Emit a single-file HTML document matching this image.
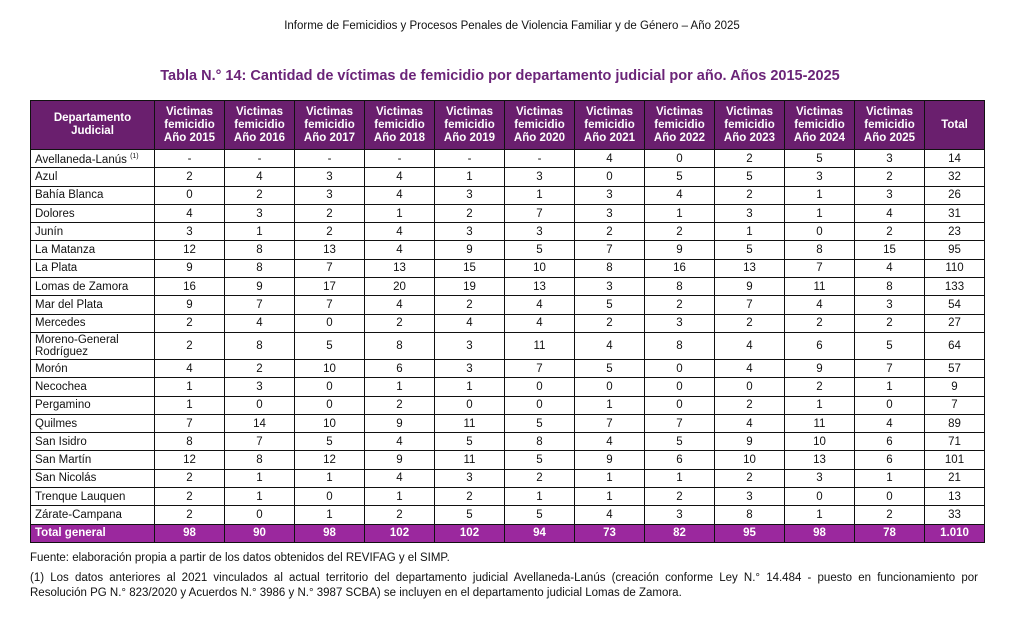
<!DOCTYPE html>
<html><head><meta charset="utf-8"><style>
body{margin:0;width:1024px;height:632px;background:#fff;font-family:"Liberation Sans",sans-serif;color:#111;position:relative;overflow:hidden}
.hdr{position:absolute;top:20px;left:0;width:1024px;text-align:center;font-size:11.5px}
.ttl{position:absolute;top:68px;left:0;width:1000px;text-align:center;font-size:14.5px;font-weight:bold;color:#6b2478}
table{position:absolute;left:30px;top:100px;border-collapse:collapse;table-layout:fixed;width:954px;font-size:11.5px}
tr{height:18.3px}
td,th{border:1.5px solid #111;padding:0;text-align:center;line-height:12px}
th{background:#6a1f6e;color:#fff;height:48px;font-size:11.5px;line-height:13px}
td:first-child{text-align:left;padding-left:4px}
tr.m{height:27px}
tr.t{height:18.5px}
tr.t td{background:#9b289e;color:#fff;font-weight:bold}
.f{position:absolute;left:30px;font-size:11.5px;line-height:15px}
.j{display:block;text-align:justify;text-align-last:justify;white-space:nowrap}
</style></head><body>
<div class="hdr">Informe de Femicidios y Procesos Penales de Violencia Familiar y de Género – Año 2025</div>
<div class="ttl">Tabla N.° 14: Cantidad de víctimas de femicidio por departamento judicial por año. Años 2015-2025</div>
<table>
<colgroup><col style="width:124px"><col span="11" style="width:70px"><col style="width:60px"></colgroup>
<tr><th>Departamento<br>Judicial</th><th>Victimas<br>femicidio<br>Año 2015</th><th>Victimas<br>femicidio<br>Año 2016</th><th>Victimas<br>femicidio<br>Año 2017</th><th>Victimas<br>femicidio<br>Año 2018</th><th>Victimas<br>femicidio<br>Año 2019</th><th>Victimas<br>femicidio<br>Año 2020</th><th>Victimas<br>femicidio<br>Año 2021</th><th>Victimas<br>femicidio<br>Año 2022</th><th>Victimas<br>femicidio<br>Año 2023</th><th>Victimas<br>femicidio<br>Año 2024</th><th>Victimas<br>femicidio<br>Año 2025</th><th>Total</th></tr>
<tr><td>Avellaneda-Lanús <sup style="font-size:7px">(1)</sup></td><td>-</td><td>-</td><td>-</td><td>-</td><td>-</td><td>-</td><td>4</td><td>0</td><td>2</td><td>5</td><td>3</td><td>14</td></tr>
<tr><td>Azul</td><td>2</td><td>4</td><td>3</td><td>4</td><td>1</td><td>3</td><td>0</td><td>5</td><td>5</td><td>3</td><td>2</td><td>32</td></tr>
<tr><td>Bahía Blanca</td><td>0</td><td>2</td><td>3</td><td>4</td><td>3</td><td>1</td><td>3</td><td>4</td><td>2</td><td>1</td><td>3</td><td>26</td></tr>
<tr><td>Dolores</td><td>4</td><td>3</td><td>2</td><td>1</td><td>2</td><td>7</td><td>3</td><td>1</td><td>3</td><td>1</td><td>4</td><td>31</td></tr>
<tr><td>Junín</td><td>3</td><td>1</td><td>2</td><td>4</td><td>3</td><td>3</td><td>2</td><td>2</td><td>1</td><td>0</td><td>2</td><td>23</td></tr>
<tr><td>La Matanza</td><td>12</td><td>8</td><td>13</td><td>4</td><td>9</td><td>5</td><td>7</td><td>9</td><td>5</td><td>8</td><td>15</td><td>95</td></tr>
<tr><td>La Plata</td><td>9</td><td>8</td><td>7</td><td>13</td><td>15</td><td>10</td><td>8</td><td>16</td><td>13</td><td>7</td><td>4</td><td>110</td></tr>
<tr><td>Lomas de Zamora</td><td>16</td><td>9</td><td>17</td><td>20</td><td>19</td><td>13</td><td>3</td><td>8</td><td>9</td><td>11</td><td>8</td><td>133</td></tr>
<tr><td>Mar del Plata</td><td>9</td><td>7</td><td>7</td><td>4</td><td>2</td><td>4</td><td>5</td><td>2</td><td>7</td><td>4</td><td>3</td><td>54</td></tr>
<tr><td>Mercedes</td><td>2</td><td>4</td><td>0</td><td>2</td><td>4</td><td>4</td><td>2</td><td>3</td><td>2</td><td>2</td><td>2</td><td>27</td></tr>
<tr class="m"><td>Moreno-General<br>Rodríguez</td><td>2</td><td>8</td><td>5</td><td>8</td><td>3</td><td>11</td><td>4</td><td>8</td><td>4</td><td>6</td><td>5</td><td>64</td></tr>
<tr><td>Morón</td><td>4</td><td>2</td><td>10</td><td>6</td><td>3</td><td>7</td><td>5</td><td>0</td><td>4</td><td>9</td><td>7</td><td>57</td></tr>
<tr><td>Necochea</td><td>1</td><td>3</td><td>0</td><td>1</td><td>1</td><td>0</td><td>0</td><td>0</td><td>0</td><td>2</td><td>1</td><td>9</td></tr>
<tr><td>Pergamino</td><td>1</td><td>0</td><td>0</td><td>2</td><td>0</td><td>0</td><td>1</td><td>0</td><td>2</td><td>1</td><td>0</td><td>7</td></tr>
<tr><td>Quilmes</td><td>7</td><td>14</td><td>10</td><td>9</td><td>11</td><td>5</td><td>7</td><td>7</td><td>4</td><td>11</td><td>4</td><td>89</td></tr>
<tr><td>San Isidro</td><td>8</td><td>7</td><td>5</td><td>4</td><td>5</td><td>8</td><td>4</td><td>5</td><td>9</td><td>10</td><td>6</td><td>71</td></tr>
<tr><td>San Martín</td><td>12</td><td>8</td><td>12</td><td>9</td><td>11</td><td>5</td><td>9</td><td>6</td><td>10</td><td>13</td><td>6</td><td>101</td></tr>
<tr><td>San Nicolás</td><td>2</td><td>1</td><td>1</td><td>4</td><td>3</td><td>2</td><td>1</td><td>1</td><td>2</td><td>3</td><td>1</td><td>21</td></tr>
<tr><td>Trenque Lauquen</td><td>2</td><td>1</td><td>0</td><td>1</td><td>2</td><td>1</td><td>1</td><td>2</td><td>3</td><td>0</td><td>0</td><td>13</td></tr>
<tr><td>Zárate-Campana</td><td>2</td><td>0</td><td>1</td><td>2</td><td>5</td><td>5</td><td>4</td><td>3</td><td>8</td><td>1</td><td>2</td><td>33</td></tr>
<tr class="t"><td>Total general</td><td>98</td><td>90</td><td>98</td><td>102</td><td>102</td><td>94</td><td>73</td><td>82</td><td>95</td><td>98</td><td>78</td><td>1.010</td></tr>
</table>
<div class="f" style="top:551px">Fuente: elaboración propia a partir de los datos obtenidos del REVIFAG y el SIMP.</div>
<div class="f" style="top:571px;width:948px"><span class="j">(1) Los datos anteriores al 2021 vinculados al actual territorio del departamento judicial Avellaneda-Lanús (creación conforme Ley N.° 14.484 - puesto en funcionamiento por</span>Resolución PG N.° 823/2020 y Acuerdos N.° 3986 y N.° 3987 SCBA) se incluyen en el departamento judicial Lomas de Zamora.</div>
</body></html>
